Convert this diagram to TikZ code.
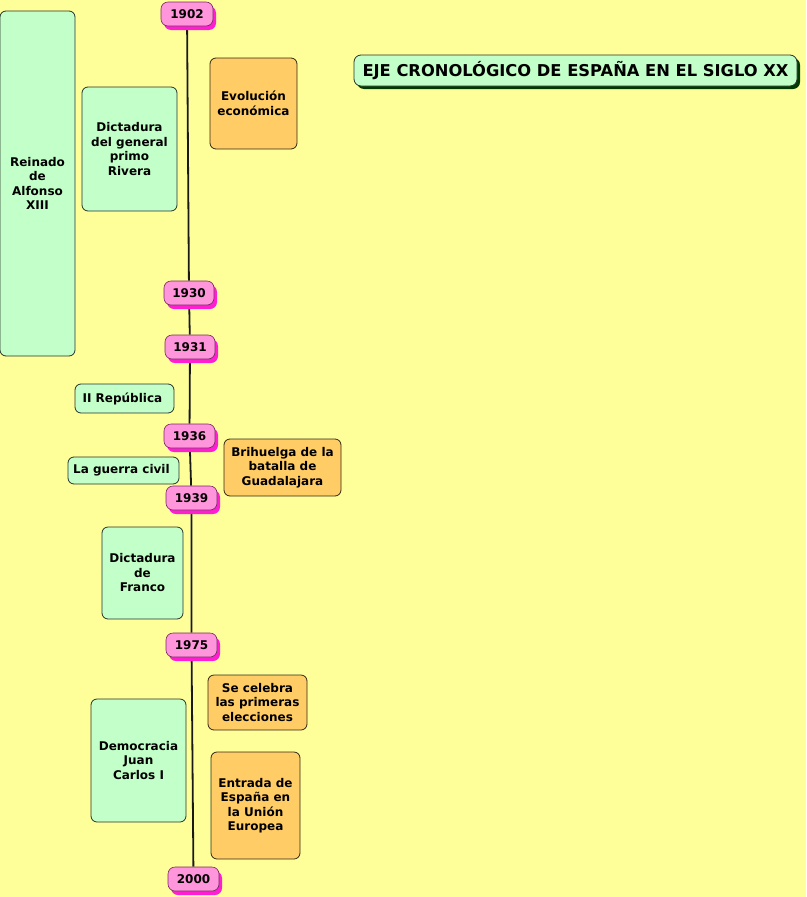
\documentclass[tikz,border=0pt]{standalone}
\usepackage{fontspec}
\setmainfont{DejaVu Sans}
\usetikzlibrary{shadows,backgrounds}

\begin{document}
\begin{tikzpicture}[x=1pt, y=-1pt,
    % Colors
    cbg/.style={fill={rgb,255:red,255;green,255;blue,153}},
    cgreen/.style={fill={rgb,255:red,195;green,255;blue,200}},
    corange/.style={fill={rgb,255:red,255;green,204;blue,102}},
    cpink/.style={fill={rgb,255:red,255;green,150;blue,220}},
    % Styles
    period/.style={draw={rgb,255:red,40;green,50;blue,40}, cgreen, rounded corners=6pt,
                   line width=0.8pt, inner sep=0pt, align=center,
                   font=\bfseries\fontsize{12}{14.5}\selectfont},
    event/.style={period, corange, draw={rgb,255:red,50;green,40;blue,20}},
    year/.style={draw={rgb,255:red,120;green,40;blue,100}, cpink, rounded corners=7pt,
                 line width=0.6pt, inner sep=0pt, minimum height=24pt,
                 font=\bfseries\fontsize{12}{13}\selectfont,
                 drop shadow={shadow xshift=3pt, shadow yshift=-4pt, opacity=1,
                              fill={rgb,255:red,255;green,30;blue,210}, draw=none}},
    axis/.style={line width=1.8pt, color=black!90},
  ]

  \useasboundingbox (0,0) rectangle (806,897);

  % Title
  \node[period, minimum width=443pt, minimum height=31pt, rounded corners=7pt,
        font=\bfseries\fontsize{16.3}{18}\selectfont,
        drop shadow={shadow xshift=3pt, shadow yshift=-3pt, opacity=1,
                     fill={rgb,255:red,0;green,60;blue,0}, draw=none}]
        (title) at (575.5, 70.5) {EJE CRONOLÓGICO DE ESPAÑA EN EL SIGLO XX};

  % Years
  \node[year, minimum width=52pt] (y1902) at (187, 14) {1902};
  \node[year, minimum width=50pt] (y1930) at (189, 293) {1930};
  \node[year, minimum width=50pt] (y1931) at (190, 347) {1931};
  \node[year, minimum width=51pt] (y1936) at (189.5, 436) {1936};
  \node[year, minimum width=51pt] (y1939) at (191.5, 498) {1939};
  \node[year, minimum width=51pt] (y1975) at (191.5, 645) {1975};
  \node[year, minimum width=51pt] (y2000) at (193.5, 879) {2000};

  % Periods
  \node[period, minimum width=75pt, minimum height=345pt] (reinado) at (37.5, 183.5) {
    Reinado\\de\\Alfonso\\XIII
  };
  \node[period, minimum width=95pt, minimum height=124pt] (primo) at (129.5, 149) {
    Dictadura\\del general\\primo\\Rivera
  };
  \node[period, minimum width=99pt, minimum height=29pt] (republica) at (124.5, 398.5) {
    II República
  };
  \node[period, minimum width=111pt, minimum height=27pt] (guerra) at (123.5, 470.5) {
    La guerra civil
  };
  \node[period, minimum width=81pt, minimum height=92pt] (franco) at (142.5, 573) {
    Dictadura\\de\\Franco
  };
  \node[period, minimum width=95pt, minimum height=123pt] (democracia) at (138.5, 760.5) {
    Democracia\\Juan\\Carlos I
  };

  % Events
  \node[event, minimum width=87pt, minimum height=91pt] (evolucion) at (253.5, 103.5) {
    Evolución\\económica
  };
  \node[event, minimum width=117pt, minimum height=57pt] (brihuelga) at (282.5, 467.5) {
    Brihuelga de la\\batalla de\\Guadalajara
  };
  \node[event, minimum width=99pt, minimum height=55pt] (elecciones) at (257.5, 702.5) {
    Se celebra\\las primeras\\elecciones
  };
  \node[event, minimum width=89pt, minimum height=107pt] (union) at (255.5, 805.5) {
    Entrada de\\España en\\la Unión\\Europea
  };

  % Background and axis
  \begin{scope}[on background layer]
    \fill[cbg] (0,0) rectangle (806,897);
    \draw[axis] (y1902) -- (y1930) -- (y1931) -- (y1936) -- (y1939) -- (y1975) -- (y2000);
  \end{scope}

\end{tikzpicture}
\end{document}
